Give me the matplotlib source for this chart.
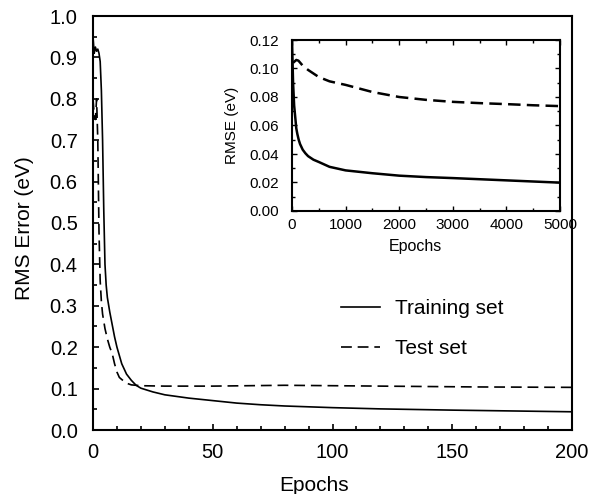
import matplotlib
matplotlib.use("Agg")
import matplotlib.pyplot as plt
from matplotlib.ticker import MultipleLocator, FormatStrFormatter
from matplotlib.lines import Line2D

plt.rcParams['font.family'] = ['Liberation Sans', 'DejaVu Sans']

# ---- main panel data (0-200 epochs) ----
train_epochs = [0, 0.5, 1, 1.5, 2, 2.5, 3, 3.5, 4, 4.5, 5, 5.5, 6, 7, 8, 9, 10, 12, 14, 16, 18, 20,
                25, 30, 40, 50, 60, 70, 80, 100, 120, 150, 175, 200]
train_rms = [0.95, 0.91, 0.925, 0.915, 0.92, 0.91, 0.89, 0.82, 0.70, 0.53, 0.40, 0.35, 0.32, 0.285,
             0.255, 0.225, 0.20, 0.16, 0.135, 0.12, 0.108, 0.101,
             0.092, 0.085, 0.077, 0.071, 0.065, 0.061, 0.058, 0.054, 0.051, 0.048, 0.046, 0.044]

test_epochs = [0, 0.5, 1, 1.5, 2, 2.5, 3, 3.5, 4, 5, 6, 7, 8, 9, 10, 11, 12, 14, 16, 20, 30, 50,
               80, 120, 160, 200]
test_rms = [0.80, 0.76, 0.75, 0.80, 0.70, 0.48, 0.36, 0.31, 0.28, 0.245, 0.22, 0.20, 0.185, 0.16,
            0.14, 0.127, 0.122, 0.113, 0.109, 0.107, 0.106, 0.106, 0.108, 0.106, 0.104, 0.103]

# ---- inset data (0-5000 epochs) ----
inset_train_epochs = [0, 20, 40, 60, 80, 100, 125, 150, 200, 250, 300, 400, 500, 700, 1000, 1500,
                      2000, 2500, 3000, 3500, 4000, 4500, 5000]
inset_train_rmse = [0.12, 0.09, 0.074, 0.066, 0.058, 0.054, 0.050, 0.047, 0.043, 0.0405, 0.0385,
                    0.036, 0.0344, 0.031, 0.0285, 0.0265, 0.0248, 0.0238, 0.0231, 0.0223, 0.0215,
                    0.0207, 0.0199]
inset_test_epochs = [20, 50, 80, 120, 200, 300, 500, 700, 1000, 1500, 2000, 2500, 3000, 3500, 4000,
                     4500, 5000]
inset_test_rmse = [0.104, 0.105, 0.106, 0.1055, 0.102, 0.099, 0.094, 0.091, 0.0885, 0.0835, 0.080,
                   0.078, 0.0766, 0.0757, 0.075, 0.0742, 0.0736]

W, H = 601, 494
fig = plt.figure(figsize=(W / 100, H / 100), dpi=100)

AX_L, AX_R, AX_T, AX_B = 93, 572, 16, 430
ax = fig.add_axes([AX_L / W, 1 - AX_B / H, (AX_R - AX_L) / W, (AX_B - AX_T) / H])
ax.plot(train_epochs, train_rms, color='black', lw=1.2)
ax.plot(test_epochs, test_rms, color='black', lw=1.2, linestyle=(0, (6.5, 3.5)))
ax.set_xlim(0, 200)
ax.set_ylim(0, 1.0)
ax.xaxis.set_major_locator(MultipleLocator(50))
ax.xaxis.set_minor_locator(MultipleLocator(10))
ax.yaxis.set_major_locator(MultipleLocator(0.1))
ax.yaxis.set_minor_locator(MultipleLocator(0.05))
ax.yaxis.set_major_formatter(FormatStrFormatter('%.1f'))
ax.tick_params(which='both', direction='in', top=False, right=False, width=1.2)
ax.tick_params(which='major', length=4.5, labelsize=14.5)
ax.tick_params(axis='x', which='major', pad=9)
ax.tick_params(axis='y', which='major', pad=11)
ax.tick_params(which='minor', length=3)
for s in ax.spines.values():
    s.set_linewidth(1.5)
ax.set_xlabel('Epochs', fontsize=15)
ax.set_ylabel('RMS Error (eV)', fontsize=15)
aw, ah = AX_R - AX_L, AX_B - AX_T
ax.xaxis.set_label_coords((314 - AX_L) / aw, (AX_B - 476) / ah)
ax.yaxis.set_label_coords((34 - AX_L) / aw, (AX_B - 228) / ah)

handles = [Line2D([], [], color='black', lw=1.2),
           Line2D([], [], color='black', lw=1.2, linestyle=(0, (6.5, 3.5)))]
ax.legend(handles, ['Training set', 'Test set'], loc='upper left',
          bbox_to_anchor=((341 - AX_L) / aw, (AX_B - 299) / ah),
          frameon=False, fontsize=15, handlelength=1.875, handletextpad=0.72,
          labelspacing=1.0, borderaxespad=0, borderpad=0)

# ---- inset ----
IL, IR, IT, IB = 292, 560, 40, 211
ins = fig.add_axes([IL / W, 1 - IB / H, (IR - IL) / W, (IB - IT) / H])
ins.plot(inset_train_epochs, inset_train_rmse, color='black', lw=1.8)
ins.plot(inset_test_epochs, inset_test_rmse, color='black', lw=1.8, linestyle=(0, (5, 2.5)))
ins.set_xlim(0, 5000)
ins.set_ylim(0, 0.12)
ins.xaxis.set_major_locator(MultipleLocator(1000))
ins.xaxis.set_minor_locator(MultipleLocator(500))
ins.yaxis.set_major_locator(MultipleLocator(0.02))
ins.yaxis.set_minor_locator(MultipleLocator(0.01))
ins.yaxis.set_major_formatter(FormatStrFormatter('%.2f'))
ins.tick_params(which='both', direction='in', top=True, right=True, width=1.0)
ins.tick_params(which='major', length=3.5, labelsize=11)
ins.tick_params(axis='x', which='major', pad=5)
ins.tick_params(axis='y', which='major', pad=9)
ins.tick_params(which='minor', length=2)
for s in ins.spines.values():
    s.set_linewidth(1.5)
ins.set_xlabel('Epochs', fontsize=11.5)
ins.set_ylabel('RMSE (eV)', fontsize=11)
iw, ih = IR - IL, IB - IT
ins.xaxis.set_label_coords((415.5 - IL) / iw, (IB - 239) / ih)
ins.yaxis.set_label_coords((239 - IL) / iw, (IB - 125) / ih)

fig.savefig('out.png', dpi=100)
